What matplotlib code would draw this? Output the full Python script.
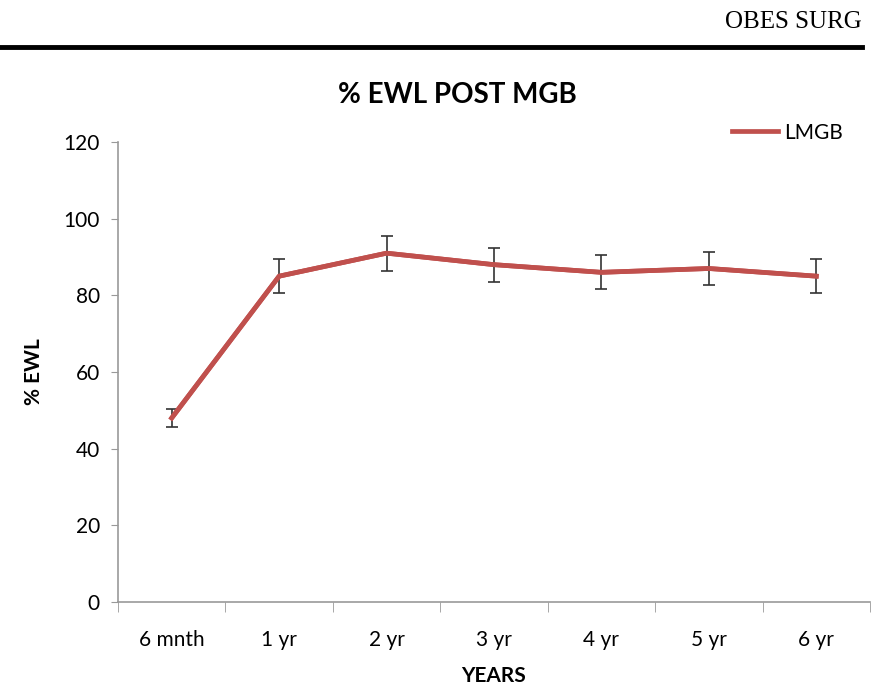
import matplotlib
matplotlib.use("Agg")
import matplotlib.pyplot as plt
from matplotlib.lines import Line2D
import numpy as np

categories = ["6 mnth", "1 yr", "2 yr", "3 yr", "4 yr", "5 yr", "6 yr"]
ewl = [48, 85, 91, 88, 86, 87, 85]
ewl_err = [2.4, 4.4, 4.6, 4.4, 4.4, 4.4, 4.4]
yticks = [0, 20, 40, 60, 80, 100, 120]

plt.rcParams['font.family'] = ['Lato', 'DejaVu Sans']

fig = plt.figure(figsize=(8.87, 6.90), dpi=100)
ax = fig.add_axes([118/887, 1-602/690, (870-118)/887, (602-142)/690])

x = np.arange(len(categories))
ax.errorbar(x, ewl, yerr=ewl_err, color='#C0504D', lw=3.4, ecolor='#333333',
            elinewidth=1.2, capsize=4, capthick=1.2, zorder=3)
ax.plot(x, ewl, color='#C0504D', lw=3.4, zorder=4)

ax.set_xlim(-0.5, len(categories) - 0.5)
ax.set_ylim(0, 120)
ax.set_yticks(yticks)
ax.set_yticklabels([str(v) for v in yticks], fontsize=15)
ax.set_xticks(x)
ax.set_xticklabels(categories, fontsize=15)
ax.set_xticks(np.arange(-0.5, len(categories)), minor=True)
ax.tick_params(axis='x', which='major', length=0, pad=20)
ax.tick_params(axis='x', which='minor', length=7, color='#999999', direction='out')
ax.tick_params(axis='y', length=5, color='#999999', direction='out', pad=8)

for s in ['top', 'right']:
    ax.spines[s].set_visible(False)
for s in ['left', 'bottom']:
    ax.spines[s].set_color('#999999')
    ax.spines[s].set_linewidth(1.2)

ax.set_xlabel("YEARS", fontsize=15, fontweight='bold', labelpad=12)
ax.set_ylabel("% EWL", fontsize=15, fontweight='bold', labelpad=14)

fig.text(457/887, 1-95/690, "% EWL POST MGB", fontsize=20, fontweight='bold',
         ha='center', va='center')

leg = ax.legend([Line2D([0], [0], color='#C0504D', lw=3.4)], ["LMGB"],
                loc='upper right', frameon=False, fontsize=15,
                handlelength=2.2, handletextpad=0.3)
leg.set_bbox_to_anchor((862/887, 1-104/690), transform=fig.transFigure)

fig.text(862/887, 1-22/690, "OBES SURG", fontsize=18, family='Liberation Serif',
         ha='right', va='center')
fig.add_artist(Line2D([0, 862/887], [1-47/690, 1-47/690], color='black', lw=3.5,
                      transform=fig.transFigure))

fig.savefig("out.png", dpi=100, facecolor='white')
